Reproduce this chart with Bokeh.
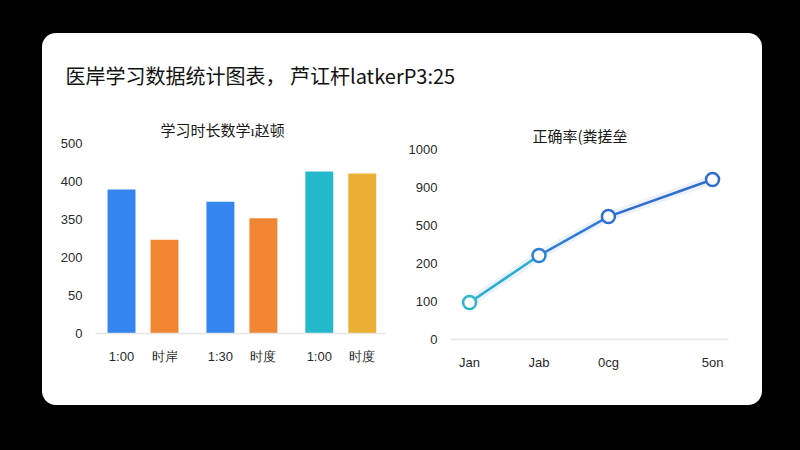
from bokeh.plotting import figure
from bokeh.models import (Legend, LegendItem, FixedTicker, ColumnDataSource,
                          GlobalInlineStyleSheet, Range1d, Div)
from bokeh.embed import file_html
from bokeh.resources import INLINE

NaN = float("nan")

# ---------------- data ----------------
main_title = "医岸学习数据统计图表， 芦讧杆latkerP3:25"

bar_title = "学习时长数学ı赵顿"
bar_labels = ["1:00", "时岸", "1:30", "时度", "1:00", "时度"]
bar_pos = [0, 10, 23, 33, 46, 56]
bar_values = [379, 247, 347, 303, 426, 421]
bar_colors = ["#3485ee", "#f08631", "#3485ee", "#f08631", "#24b8cb", "#eaaf34"]
bar_ytick_vals = [0, 100, 200, 300, 400, 500]
bar_ytick_labels = ["0", "50", "200", "350", "400", "500"]
bar_legend = ["学习时长", "巍道"]

line_title = "正确率(粪搓垒"
line_labels = ["Jan", "Jab", "0cg", "5on"]
line_pos = [0, 2, 4, 7]
line_values = [195, 442, 647, 842]
line_ytick_vals = [0, 200, 400, 600, 800, 1000]
line_ytick_labels = ["0", "100", "200", "500", "900", "1000"]
line_legend = ["学习时长", "确岸率率"]

CJK = "Noto Sans CJK SC"
LAT = "Liberation Sans"
TXT = "#2a2a2a"


def style_axes(p, ytick_vals, ytick_labels, xtick_vals, xtick_labels):
    p.grid.visible = False
    p.yaxis.ticker = FixedTicker(ticks=ytick_vals)
    p.yaxis.major_label_overrides = {v: l for v, l in zip(ytick_vals, ytick_labels)}
    p.yaxis.axis_line_color = None
    p.yaxis.major_tick_line_color = None
    p.yaxis.minor_tick_line_color = None
    p.yaxis.major_label_standoff = 7
    p.yaxis.major_label_text_font = LAT
    p.yaxis.major_label_text_font_size = "13px"
    p.yaxis.major_label_text_color = TXT
    p.xaxis.ticker = FixedTicker(ticks=xtick_vals)
    p.xaxis.major_label_overrides = {v: l for v, l in zip(xtick_vals, xtick_labels)}
    p.xaxis.axis_line_color = "#e6e6e6"
    p.xaxis.axis_line_width = 1.5
    p.xaxis.major_tick_line_color = None
    p.xaxis.minor_tick_line_color = None
    p.xaxis.major_label_standoff = 9
    p.xaxis.major_label_text_font = LAT
    p.xaxis.major_label_text_font_size = "13px"
    p.xaxis.major_label_text_color = TXT
    p.title.text_font = CJK
    p.title.text_font_size = "15px"
    p.title.text_font_style = "normal"
    p.title.text_color = "#1a1a1a"
    p.title.align = "left"
    p.title.standoff = 8


def make_legend(labels, renderer_groups, loc):
    return Legend(items=[LegendItem(label=l, renderers=r)
                         for l, r in zip(labels, renderer_groups)],
                  orientation="horizontal", location=loc,
                  border_line_color=None, background_fill_alpha=0,
                  label_text_font=CJK, label_text_font_size="13px",
                  label_text_color=TXT, glyph_width=22, glyph_height=14,
                  spacing=14, padding=0, margin=0, label_standoff=5)


common = dict(output_backend="svg", toolbar_location=None,
              outline_line_color=None, background_fill_alpha=0,
              border_fill_alpha=0)

# ---------------- card background ----------------
css = """
html, body { background-color: #000000 !important; margin: 0 !important;
             overflow: hidden !important; }
.rs-card { position: absolute !important; left: 42px !important; top: 33px !important;
           margin: 0 !important; width: 720px !important; height: 372px !important;
           background-color: #ffffff !important; border-radius: 14px !important; }
.rs-p0 { position: absolute !important; left: 42px !important; top: 33px !important; margin: 0 !important; }
.rs-p1 { position: absolute !important; left: 42px !important; top: 105px !important; margin: 0 !important; }
.rs-p2 { position: absolute !important; left: 400px !important; top: 105px !important; margin: 0 !important; }
"""
card = Div(text="", width=720, height=372, css_classes=["rs-card"],
           stylesheets=[GlobalInlineStyleSheet(css=css)])

# ---------------- header ----------------
p0 = figure(width=720, height=72, x_axis_location=None, y_axis_location=None,
            min_border_left=23, min_border_right=0, min_border_top=56,
            min_border_bottom=0, css_classes=["rs-p0"], **common)
p0.grid.visible = False
p0.title.text = main_title
p0.title.text_font = CJK
p0.title.text_font_size = "20px"
p0.title.text_font_style = "normal"
p0.title.text_color = "#111111"
p0.title.standoff = 0
p0.title.align = "left"

# ---------------- bar chart ----------------
p1 = figure(frame_width=290, frame_height=190,
            x_range=Range1d(-6.05, 61.4), y_range=Range1d(0, 500),
            min_border_left=53, min_border_right=15, min_border_top=38,
            min_border_bottom=72, title=bar_title, css_classes=["rs-p1"],
            **common)
style_axes(p1, bar_ytick_vals, bar_ytick_labels, bar_pos, bar_labels)
p1.title.offset = 65
bsrc = ColumnDataSource(dict(x=bar_pos, top=bar_values, color=bar_colors))
p1.vbar(x="x", top="top", bottom=0, width=6.5, fill_color="color",
        line_color=None, source=bsrc)

r_sq = p1.scatter(x=[NaN], y=[NaN], marker="square", size=9,
                  fill_color="#3485ee", line_color=None)
r_ln = p1.line(x=[NaN], y=[NaN], line_color="#24b8cb", line_width=2.5)
r_ci = p1.scatter(x=[NaN], y=[NaN], marker="circle", size=8,
                  fill_color="white", line_color="#24b8cb", line_width=2)
p1.add_layout(make_legend(bar_legend, [[r_sq], [r_ln, r_ci]], (57, -48)))

# ---------------- line chart ----------------
p2 = figure(frame_width=278, frame_height=190,
            x_range=Range1d(-0.55, 7.46), y_range=Range1d(0, 1000),
            min_border_left=50, min_border_right=34, min_border_top=44,
            min_border_bottom=66, title=line_title, css_classes=["rs-p2"],
            **common)
style_axes(p2, line_ytick_vals, line_ytick_labels, line_pos, line_labels)
p2.title.offset = 82

p2.line(line_pos, line_values, line_width=9, line_color="#3c7ee0", line_alpha=0.10)
seg_colors = ["#2aaed0", "#2f7bd4", "#2e6ccf"]
p2.segment(x0=line_pos[:-1], y0=line_values[:-1], x1=line_pos[1:],
           y1=line_values[1:], line_color=seg_colors, line_width=2.5)
pt_colors = ["#2cb6cc", "#2f80d5", "#2f6fd1", "#2f6ccf"]
p2.scatter(line_pos, line_values, marker="circle", size=13, fill_color="white",
           line_color=pt_colors, line_width=2.5)

o_ln = p2.line(x=[NaN], y=[NaN], line_color="#f08631", line_width=2.5)
o_ci = p2.scatter(x=[NaN], y=[NaN], marker="circle", size=6,
                  fill_color="white", line_color="#f08631", line_width=2)
b_ln = p2.line(x=[NaN], y=[NaN], line_color="#3a76d0", line_width=2.5)
b_ci = p2.scatter(x=[NaN], y=[NaN], marker="circle", size=8,
                  fill_color="white", line_color="#3a76d0", line_width=2)
p2.add_layout(make_legend(line_legend, [[o_ln, o_ci], [b_ln, b_ci]], (47, -47)))

open("out.html", "w").write(file_html([card, p0, p1, p2], INLINE))
